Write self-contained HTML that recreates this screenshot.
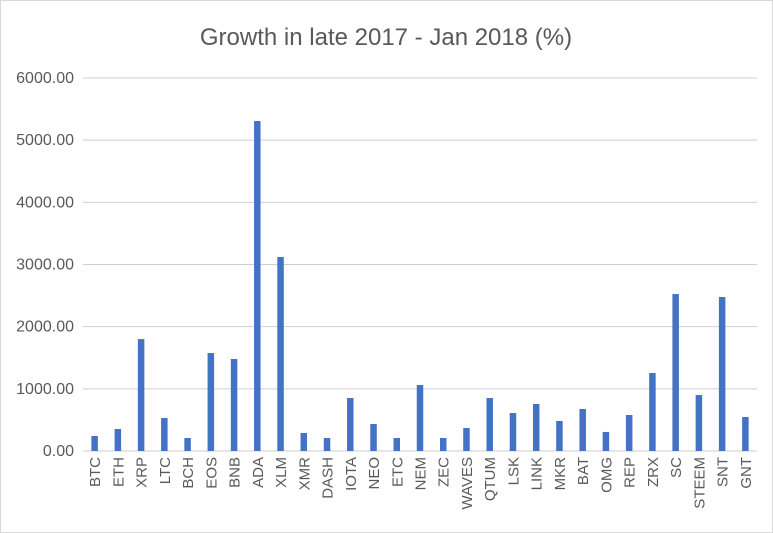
<!DOCTYPE html>
<html><head><meta charset="utf-8"><style>
body{margin:0;background:#fff;}
svg{display:block;font-family:"Liberation Sans",sans-serif;}
</style></head><body>
<svg id="chart" width="773" height="533" viewBox="0 0 773 533">
<rect x="0.5" y="0.5" width="772" height="532" fill="#fff" stroke="#d9d9d9"/>
<text x="386" y="45" text-anchor="middle" font-size="24" fill="#595959">Growth in late 2017 - Jan 2018 (%)</text>
<g id="grid"></g><g id="bars"></g><g id="xl"></g><g id="yl"></g>
</svg>
<script>
const categories=["BTC","ETH","XRP","LTC","BCH","EOS","BNB","ADA","XLM","XMR","DASH","IOTA","NEO","ETC","NEM","ZEC","WAVES","QTUM","LSK","LINK","MKR","BAT","OMG","REP","ZRX","SC","STEEM","SNT","GNT"];
const values=[241,354,1800,530,209,1576,1480,5308,3120,290,209,852,434,209,1062,209,370,852,611,756,483,676,306,579,1255,2525,900,2477,547];
const yTicks=[0,1000,2000,3000,4000,5000,6000];
const yTickLabels=["0.00","1000.00","2000.00","3000.00","4000.00","5000.00","6000.00"];
const NS="http://www.w3.org/2000/svg";
const x0=83,x1=757,y0=451,y1=78;
const band=(x1-x0)/categories.length;
function xc(i){return x0+band*(i+0.5);}
function ys(v){return y0-(v/6000)*(y0-y1);}
function mk(t,a,p){const e=document.createElementNS(NS,t);for(const k in a)e.setAttribute(k,a[k]);document.getElementById(p).appendChild(e);return e;}
yTicks.forEach((t,i)=>{
 const l=mk('line',{x1:x0,x2:x1,y1:ys(t),y2:ys(t),stroke:'#cfcfcf','stroke-width':1},'grid');
 
 
 const tx=mk('text',{x:74,y:ys(t)+5,'text-anchor':'end','font-size':16,fill:'#595959'},'yl');
 tx.textContent=yTickLabels[i];
 
 
});
categories.forEach((c,i)=>{
 const w=6.5;
 const r=mk('rect',{x:xc(i)-w/2,y:ys(values[i]),width:w,height:y0-ys(values[i]),fill:'#4472c4'},'bars');
 
 
 const t=mk('text',{transform:`translate(${xc(i)+5.5},457) rotate(-90)`,'text-anchor':'end','font-size':15,fill:'#595959'},'xl');
 t.textContent=c;
 
 
});
</script>
</body></html>
